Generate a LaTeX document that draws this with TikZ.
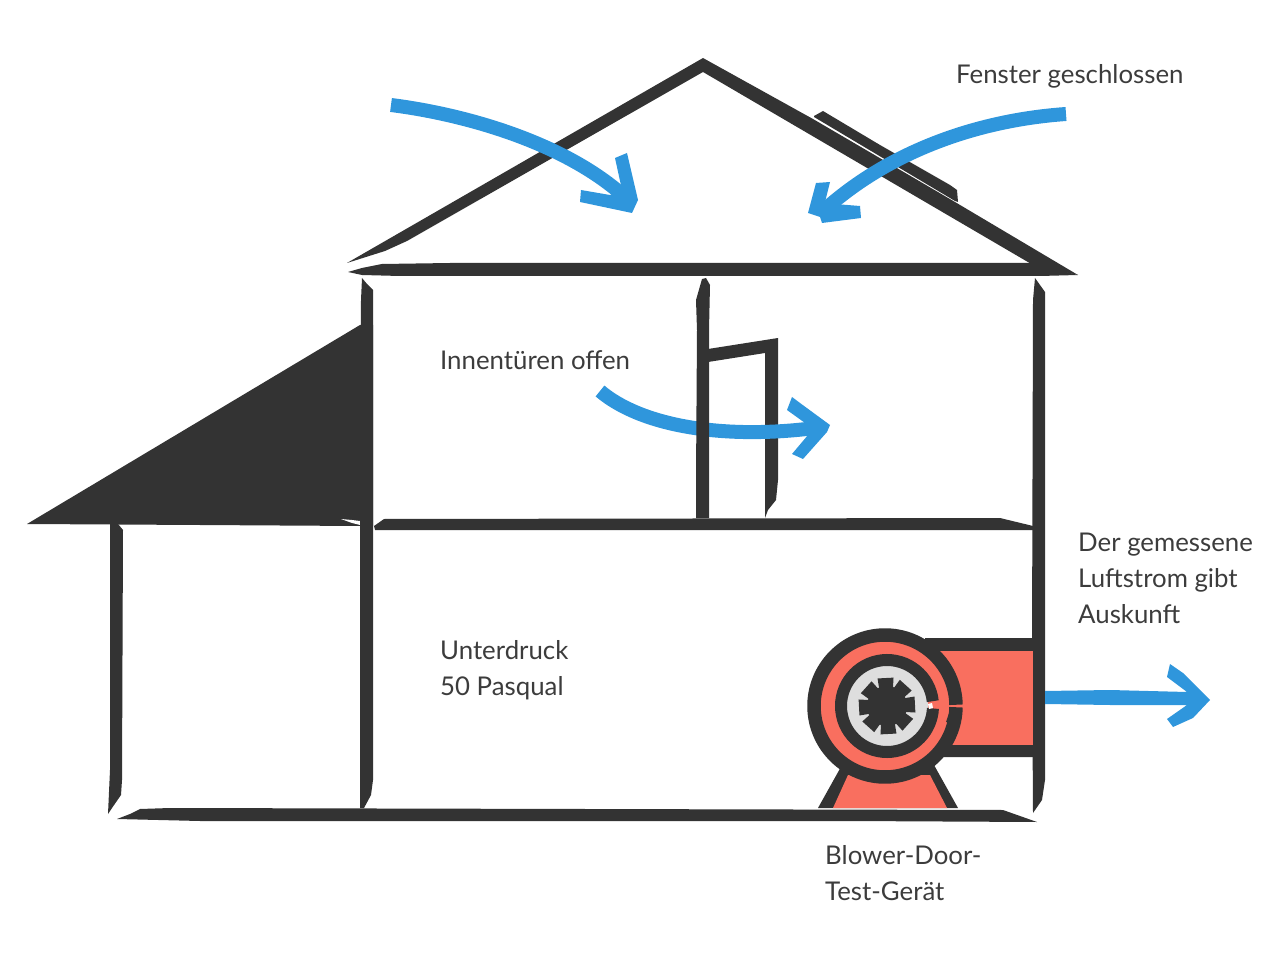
\documentclass[tikz,border=0pt]{standalone}
\usepackage{fontspec}
\setmainfont{Lato}
\definecolor{ink}{HTML}{333333}
\definecolor{flow}{HTML}{2F96DC}
\definecolor{coral}{HTML}{F96F5F}
\definecolor{hub}{HTML}{DEDEDE}
\definecolor{label}{HTML}{3C3C3C}
\tikzset{
  brush/.style={fill=ink,draw=none},
  airflow/.style={fill=flow,draw=none},
  airshaft/.style={draw=flow,line width=14pt,fill=none},
  caption/.style={text=label,inner sep=0pt,anchor=north west,align=left,
    font=\fontsize{25.8}{36}\selectfont},
  tube/.style={draw=ink,line width=13.5pt,fill=none}
}
\begin{document}
\begin{tikzpicture}[x=1pt,y=-1pt]
\useasboundingbox (0,0) rectangle (1280,973);

% window frame lying on the right roof slope
\fill[brush] (814,116) -- (823,111) -- (880,145) -- (950,185) -- (957,190) -- (958,202) -- (955,201) -- (814,117) -- cycle;

% roof slopes, tie beam
\fill[brush] (347,263) -- (703,58) -- (813,119) -- (955,202) -- (1078,275) -- (1033,265)
  -- (703,72) -- (407,241) -- (385,251) -- cycle;
\fill[brush] (348,272) -- (362,268) -- (382,264) -- (450,263) -- (1033,263) -- (1078,275)
  -- (1040,276) -- (400,276) -- (362,275) -- cycle;

% lean-to roof and walls
\fill[brush] (27,524) -- (360,325) -- (373,325) -- (373,526) -- (360,526) -- (200,525) -- cycle;
\fill[white] (341,519) -- (352,520) -- (360,521) -- (360,525) -- (352,523) -- cycle;
\fill[brush] (362,278) -- (367,284) -- (373,290) -- (373,780) -- (371,795) -- (364,808) -- (360,808)
  -- (360,520) -- (361,300) -- cycle;
\fill[brush] (110,524) -- (118,524) -- (123,530) -- (122,780) -- (121,795) -- (112,808) -- (108,814)
  -- (110,770) -- cycle;
\fill[brush] (1035,278) -- (1040,285) -- (1045,292) -- (1045,780) -- (1042,800) -- (1033,813)
  -- (1032,650) -- (1033,300) -- cycle;

% intermediate floor and ground floor
\fill[brush] (374,526) -- (384,519) -- (1000,518) -- (1033,526) -- (1033,530) -- (375,530) -- cycle;
\fill[brush] (117,819) -- (130,814) -- (140,809) -- (170,808) -- (1003,810) -- (1037,822)
  -- (850,821) -- (200,821) -- cycle;

% far door leaf
\fill[brush] (708,349) -- (778,338) -- (778,480) -- (776,500) -- (768,510) -- (765,518)
  -- (765,353) -- (708,362) -- cycle;

% air entering through the left roof slope
\draw[airshaft] (391,105) .. controls (470,115) and (570,145) .. (628,200);
\fill[airflow] (615,158) -- (627,153) -- (638,200) -- (632,213) -- (580,202) -- (581,190) -- (610,195) -- (622,190) -- cycle;

% air entering past the window
\draw[airshaft] (1066,114) .. controls (980,120) and (890,150) .. (822,212);
\fill[airflow] (860,206) -- (861,218) -- (822,223) -- (820,217) -- (808,213) -- (816,183) -- (830,182) -- (825,202) -- (835,204) -- cycle;

% air passing the door opening
\draw[airshaft] (600,391) .. controls (640,425) and (720,440) .. (815,428);
\fill[airflow] (787,410) -- (792,397) -- (800,403) -- (830,425) -- (827,432) -- (803,459) -- (792,454) -- (808,435) -- (812,428) -- cycle;

% near door post, in front of the moving air
\fill[brush] (702,279) -- (706,278) -- (710,285) -- (709,330) -- (709,518) -- (696,518) -- (696,480)
  -- (697,330) -- (696,300) -- cycle;

% air leaving through the fan duct
\fill[airflow] (1045,691) -- (1110,690) -- (1187,692) -- (1167,677) -- (1170,664) -- (1183,673) -- (1210,700)
  -- (1193,718) -- (1173,727) -- (1167,719) -- (1187,705) -- (1110,705) -- (1045,704) -- cycle;

% blower stand
\fill[brush] (818,808) -- (842,765) -- (934,765) -- (958,808) -- cycle;
\fill[coral] (833,808) -- (848,775) -- (930,775) -- (947,808) -- cycle;

% blower duct
\fill[brush] (925,638) -- (1033,638) -- (1033,757) -- (940,757) -- cycle;
\fill[coral] (935,651) -- (1033,651) -- (1033,745) -- (935,745) -- cycle;

% blower housing, open towards the duct
\fill[coral] (885,706) circle[radius=71];
\draw[tube] (885,706) ++(-1:71) arc[start angle=-1,delta angle=-358,radius=71];
\fill[brush] (950,710) -- (960,715) -- (959,722) -- (946,722) -- cycle;
\fill[hub] (887,706) circle[radius=41];
\draw[draw=ink,line width=12pt] (887,706) ++(-6:46) arc[start angle=-6,delta angle=-351,radius=46];
\fill[white] (928,704) -- (932,703) -- (933,708) -- (929,709) -- cycle;

% impeller blades, widening towards the tips
\foreach \a in {3,48,...,318}{
  \fill[brush,rotate around={\a:(887,706)}] (887,701) -- (915,698) -- (915,714) -- (887,711) -- cycle;
}
\fill[brush] (887,706) circle[radius=20];

% captions
\node[caption] (windows) at (956,64) {Fenster geschlossen};
\node[caption] (doors) at (440,350) {Innentüren offen};
\node[caption] (pressure) at (440,640) {Unterdruck\\50 Pasqual};
\node[caption] (device) at (825,845) {Blower-Door-\\Test-Gerät};
\node[caption] (result) at (1078,533) {Der gemessene\\Luftstrom gibt\\Auskunft};
\end{tikzpicture}
\end{document}
